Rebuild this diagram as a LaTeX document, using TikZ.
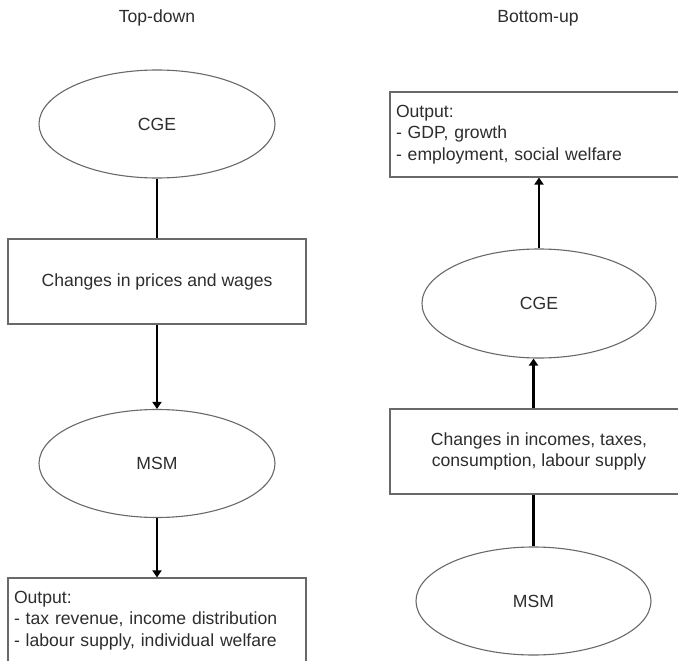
\documentclass[tikz,border=0pt]{standalone}
\usepackage{fontspec}
\setmainfont{Liberation Sans}
\usetikzlibrary{shapes.geometric,arrows.meta}
\definecolor{edgegray}{RGB}{105,105,105}
\definecolor{inkgray}{RGB}{45,45,45}

\begin{document}
\begin{tikzpicture}[x=1pt,y=1pt,yscale=-1,xscale=1,
  every node/.style={font=\fontsize{17.6}{21.5}\selectfont, text=inkgray},
  model/.style={ellipse, draw=edgegray, line width=1.1pt, minimum width=236pt, minimum height=108pt, inner sep=0pt},
  stagebox/.style={rectangle, draw=edgegray, line width=1.1pt, minimum width=298pt, minimum height=85pt, align=center},
  outbox/.style={stagebox, text width=286pt, inner xsep=6pt, align=left},
  link/.style={line width=2.4pt, draw=black},
  arrowlink/.style={link, -{Triangle[width=9pt,length=7pt]}}]
  \useasboundingbox (0,0) rectangle (678,661);
  \clip (0,0) rectangle (678,661);

  % Top-down column
  \node (tdTitle) at (157,18) {Top-down};
  %Shape: Ellipse
  \node [model] (cgeA) at (157,124) {CGE};
  %Shape: Rectangle
  \node [stagebox] (chgA) at (157,281.5) {Changes in prices and wages};
  %Shape: Ellipse
  \node [model] (msmA) at (157,463.5) {MSM};
  %Shape: Rectangle
  \node [outbox] (outA) at (157,620.5) {Output:\\- tax revenue, income distribution\\- labour supply, individual welfare};

  \draw [link] (cgeA) -- (chgA);
  \draw [arrowlink] (chgA) -- (msmA);
  \draw [arrowlink] (msmA) -- (outA);

  % Bottom-up column
  \node (buTitle) at (538,18) {Bottom-up};
  %Shape: Rectangle
  \node [outbox] (outB) at (539,134.5) {Output:\\- GDP, growth\\- employment, social welfare};
  %Shape: Ellipse
  \node [model, minimum width=234pt, minimum height=109pt] (cgeB) at (539,303.5) {CGE};
  %Shape: Rectangle
  \node [stagebox] (chgB) at (539,451.5) {Changes in incomes, taxes,\\consumption, labour supply};
  %Shape: Ellipse
  \node [model, minimum width=235pt] (msmB) at (533.5,601) {MSM};

  \draw [arrowlink] (cgeB) -- (outB);
  \draw [arrowlink] (chgB.north -| msmB) -- (cgeB.south -| msmB);
  \draw [link] (msmB) -- (msmB |- chgB.south);

\end{tikzpicture}
\end{document}
